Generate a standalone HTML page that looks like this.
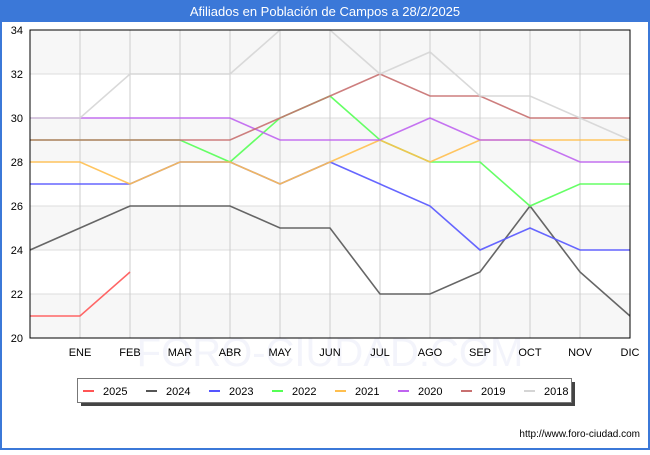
<!DOCTYPE html>
<html><head><meta charset="utf-8"><style>
body{margin:0;width:650px;height:450px;background:#fff;font-family:"Liberation Sans","DejaVu Sans",sans-serif;overflow:hidden}
</style></head><body>
<svg id="c" width="650" height="450" xmlns="http://www.w3.org/2000/svg">
<rect x="0" y="0" width="650" height="450" fill="#fff"/>
<rect x="0" y="0" width="650" height="22" fill="#3b78d8"/>
<text x="325" y="16" text-anchor="middle" font-size="13" fill="#fff">Afiliados en Población de Campos a 28/2/2025</text>
<rect x="0" y="22" width="2" height="428" fill="#3b78d8"/>
<rect x="648" y="22" width="2" height="428" fill="#3b78d8"/>
<rect x="0" y="448" width="650" height="2" fill="#3b78d8"/>
<text x="330" y="366" text-anchor="middle" font-size="40" fill="#f3f4fb">FORO-CIUDAD.COM</text>
<g id="plot"></g>
<text x="640" y="437" text-anchor="end" font-size="10" fill="#000">http://www.foro-ciudad.com</text>
</svg>
<script>
const months=["","ENE","FEB","MAR","ABR","MAY","JUN","JUL","AGO","SEP","OCT","NOV","DIC"];
const yTicks=[20,22,24,26,28,30,32,34];
const years=["2025","2024","2023","2022","2021","2020","2019","2018"];
const colors=["#ff5555","#555555","#5555ff","#55ff55","#ffbf4f","#bf64f0","#c87070","#d5d5d5"];
const s2025=[21,21,23];
const s2024=[24,25,26,26,26,25,25,22,22,23,26,23,21];
const s2023=[27,27,27,28,28,27,28,27,26,24,25,24,24];
const s2022=[29,29,29,29,28,30,31,29,28,28,26,27,27];
const s2021=[28,28,27,28,28,27,28,29,28,29,29,29,29];
const s2020=[30,30,30,30,30,29,29,29,30,29,29,28,28];
const s2019=[29,29,29,29,29,30,31,32,31,31,30,30,30];
const s2018=[30,30,32,32,32,34,34,32,33,31,31,30,29];
const series=[s2025,s2024,s2023,s2022,s2021,s2020,s2019,s2018];
const NS="http://www.w3.org/2000/svg";
const X0=30,X1=630,Y0=30,Y1=338,YMIN=20,YMAX=34;
const xs=i=>X0+i*(X1-X0)/12;
const ys=v=>Y1-(v-YMIN)*(Y1-Y0)/(YMAX-YMIN);
const g=document.getElementById('plot');
function mk(t,a){const e=document.createElementNS(NS,t);for(const k in a)e.setAttribute(k,a[k]);g.appendChild(e);return e;}
for(let i=0;i<yTicks.length-1;i++){
  const b=mk('rect',{x:X0,y:ys(yTicks[i+1]),width:X1-X0,height:ys(yTicks[i])-ys(yTicks[i+1]),fill:(i%2==0)?'rgba(240,240,240,0.5)':'rgba(255,255,255,0)'});
  
  
}
yTicks.forEach(v=>{
  const l=mk('line',{x1:X0,x2:X1,y1:ys(v),y2:ys(v),stroke:'#dddddd'});
  
  
  const t=mk('text',{x:23,y:ys(v)+4,'text-anchor':'end','font-size':11,fill:'#000'});
  t.textContent=v;
  
  
});
months.forEach((m,i)=>{
  if(i==0)return;
  const l=mk('line',{x1:xs(i),x2:xs(i),y1:Y0,y2:Y1,stroke:'#cccccc'});
  
  
  const t=mk('text',{x:xs(i),y:356,'text-anchor':'middle','font-size':11,fill:'#000'});
  t.textContent=m;
  
  
});
for(let k=0;k<series.length;k++){
  const pts=series[k].map((v,i)=>xs(i)+','+ys(v)).join(' ');
  const p=mk('polyline',{points:pts,fill:'none',stroke:colors[k],'stroke-width':1.6,'stroke-opacity':0.9});
  
  
}
const f=mk('rect',{x:X0,y:Y0,width:X1-X0,height:Y1-Y0,fill:'none',stroke:'#000'});


const sh=mk('rect',{x:81,y:382,width:494,height:24,fill:'#444'});


const lb=mk('rect',{x:77.5,y:378.5,width:494,height:24,fill:'#fff',stroke:'#777'});


years.forEach((y,k)=>{
  const x=83+k*63;
  const s=mk('line',{x1:x,x2:x+11,y1:391,y2:391,stroke:colors[k],'stroke-width':2});
  
  
  const t=mk('text',{x:x+20,y:395,'font-size':11,fill:'#000'});
  t.textContent=y;
  
  
});
</script>
</body></html>
